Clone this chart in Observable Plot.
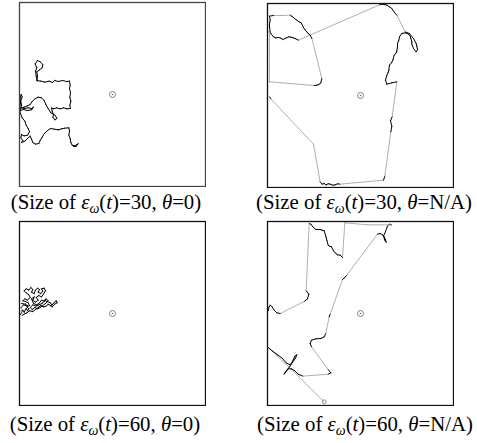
<!DOCTYPE html>
<html>
<head>
<meta charset="utf-8">
<script src="https://cdn.jsdelivr.net/npm/d3@7"></script>
<script src="https://cdn.jsdelivr.net/npm/@observablehq/plot@0.6"></script>
<style>
  html, body { margin: 0; padding: 0; background: #fff; }
  #wrap { position: relative; width: 477px; height: 443px; overflow: hidden; }
  .panel { position: absolute; }
  .cap { position: absolute; width: 240px; text-align: center; white-space: nowrap;
         font-family: "Liberation Serif", "Times New Roman", serif; font-size: 20.8px; line-height: 20px; color: #000; }
  .cap sub { font-size: 14px; vertical-align: -4px; line-height: 0; }
</style>
</head>
<body>
<div id="wrap"></div>
<script>
// World extent (arbitrary position units) and target location
const worldX = [0, 558];
const worldY = [0, 552];
const target = [279, 276];

// Trajectory: size of eps_omega(t)=30, theta=0
const path30Theta0 = [
  [54,236],[50,221],[48,206],[52,196],[47,184],[54,174],[62,178],[70,186],[68,196],[60,202],[52,208],[54,221],[52,234],
  [64,236],[76,239],[89,236],[99,240],[106,234],[116,237],[129,234],[141,237],[150,236],
  [152,248],[150,258],[153,271],[151,284],[154,296],[151,308],[153,318],
  [142,319],[132,316],[122,319],[112,316],[102,319],[96,316],
  [98,326],[102,336],[100,344],[106,352],[112,348],[108,340],[104,336],
  [94,331],[86,318],[79,306],[74,294],[66,286],[56,284],[46,289],
  [39,296],[32,306],[24,310],[14,314],[6,316],[14,318],[26,316],[36,318],[42,314],[36,322],[24,324],[12,321],[2,324],
  [6,308],[4,294],[8,284],[5,276],[2,286],[3,301],[1,314],[2,331],
  [8,346],[16,356],[20,368],[26,378],[30,388],[24,398],[14,400],[6,396],[4,406],[10,414],[6,420],[16,416],[24,408],
  [32,401],[36,410],[40,420],[48,425],[58,423],[62,414],[68,404],[74,394],[84,384],[94,378],[104,380],[116,382],
  [126,379],[136,377],[148,376],[150,386],[148,398],[152,408],[154,420],[158,428],[166,430],[172,426],[176,424],[170,432],[162,432]
];

// Trajectory: size 30, theta N/A
const path30ThetaNA = [
  [6,280],[10,286],[138,422],[158,535],[164,542],[170,540],[176,544],[182,541],[188,542],[196,545],[203,544],[210,541],[218,542],
  [348,530],[352,518],[370,385],[373,368],[369,352],[374,340],[388,235],[373,238],[358,242],[354,230],
  [358,215],[362,207],[364,200],[366,185],[372,178],[376,170],[380,155],[386,148],[388,142],[390,130],[390,120],[394,110],[396,100],
  [403,90],[413,88],[423,92],[428,98],[430,105],[433,114],[433,122],[438,135],[446,145],[450,138],[448,128],[446,120],[438,105],[426,90],[413,85],
  [388,35],[380,26],[373,15],[366,10],[358,5],[350,3],[343,2],[336,4],
  [93,110],[85,106],[78,103],[70,101],[63,100],[55,104],[46,108],[40,104],[33,102],[25,103],[18,100],[10,90],[6,85],
  [6,140],[6,190],[6,235],
  [140,246],[148,245],[154,243],[160,238],[163,225],
  [133,105],[128,95],[122,90],[118,85],[112,78],[108,72],[101,58],[95,55],[88,50],[82,46],[78,42],[72,38],[68,35],
  [43,36],[18,36],[6,38],[8,50],[6,60],[6,70],[8,85]
];

// Trajectory: size 60, theta=0
const path60Theta0 = [
  [3,279],[10,266],[14,272],[20,261],[24,268],[28,262],[22,256],[30,252],[26,244],[18,240],[10,238],[16,232],[24,236],
  [32,228],[28,220],[20,214],[14,208],[20,202],[28,206],[34,198],[40,204],[36,212],[44,216],[48,206],[54,200],[60,204],
  [56,212],[64,216],[70,210],[66,202],[74,200],[78,208],[72,218],[66,226],[58,222],[50,228],[56,236],[48,242],[40,236],
  [44,226],[36,232],[42,246],[52,250],[60,244],[66,236],[74,240],[80,232],[86,238],[78,246],[70,252],[62,258],[54,262],
  [46,258],[38,264],[32,258],[40,250],[50,254],[58,250],[68,246],[75,236],[85,241],[93,244],[97,251],[103,244],[110,238],
  [113,244],[105,248],[98,256],[92,252],[86,248],[80,254],[72,256],[64,252],[56,258],[48,264],[40,270],[30,268],[22,274],
  [14,278],[8,282],[5,258],[12,250],[25,254],[18,248],[6,246]
];

// Trajectory: size 60, theta N/A
const path60ThetaNA = [
  [170,541],[66,438],[44,418],[24,398],[2,378],[14,388],[30,400],[44,410],[56,424],[68,430],
  [76,418],[82,404],[88,400],[84,410],[74,424],[66,436],[58,446],[50,458],[54,452],[62,442],[72,442],[82,448],[92,458],[106,464],
  [182,458],[190,454],[182,444],[132,376],[128,366],[132,356],[145,352],[160,351],[170,346],[175,336],
  [185,286],[188,278],[225,174],[232,168],[238,161],
  [330,38],[338,36],[345,40],[350,46],[354,54],[356,62],[352,56],[348,44],[354,30],[360,14],[366,8],[372,10],
  [300,10],[232,4],[225,108],
  [218,101],[210,100],[205,96],[198,88],[192,76],[186,74],[182,71],[178,56],[176,48],[174,41],[170,28],[164,26],[158,24],[145,24],[138,18],[130,8],[125,6],
  [116,208],[124,218],[120,232],[110,240],
  [38,276],[28,274],[20,266],[14,256],[8,251],[4,258],[2,268]
];

const panels = [
  {path: path30Theta0, left: 18, top: 1, frame: "#444"},
  {path: path30ThetaNA, left: 266, top: 2, frame: "#111"},
  {path: path60Theta0, left: 18, top: 220, frame: "#111"},
  {path: path60ThetaNA, left: 266, top: 220, frame: "#111"}
];

const captionSizes = ["30", "30", "60", "60"];
const captionThetas = ["0", "N/A", "0", "N/A"];
const captionCenters = [[106, 192], [364, 192], [105, 414], [365, 414]];

const wrap = document.getElementById("wrap");

panels.forEach((p, i) => {
  const segs = d3.pairs(p.path).map(([a, b]) => ({x1: a[0], y1: a[1], x2: b[0], y2: b[1],
    len: Math.hypot(b[0] - a[0], b[1] - a[1])}));
  const marks = [
    Plot.link(segs, {x1: "x1", y1: "y1", x2: "x2", y2: "y2",
      stroke: d => d.len > 22 ? "#9a9a9a" : "#000",
      strokeWidth: d => d.len > 22 ? 0.8 : 1, strokeLinecap: "round"}),
    Plot.dot([target], {x: d => d[0], y: d => d[1], r: 3, stroke: "#666", strokeWidth: 0.8, fill: "none"}),
    Plot.dot([target], {x: d => d[0], y: d => d[1], r: 0.8, fill: "#666"}),
    Plot.frame({stroke: p.frame, strokeWidth: 1.3})
  ];
  if (i === 3) {
    marks.push(Plot.dot([p.path[0]], {x: d => d[0], y: d => d[1], r: 2, stroke: "#777", strokeWidth: 0.8, fill: "none"}));
  }
  const svg = Plot.plot({
    width: 188, height: 186,
    marginTop: 1, marginBottom: 1, marginLeft: 1, marginRight: 1,
    x: {domain: worldX, axis: null},
    y: {domain: worldY, reverse: true, axis: null},
    marks
  });
  svg.classList.add("panel");
  svg.style.left = p.left + "px";
  svg.style.top = p.top + "px";
  wrap.appendChild(svg);

  const cap = document.createElement("div");
  cap.className = "cap";
  cap.style.left = (captionCenters[i][0] - 120) + "px";
  cap.style.top = captionCenters[i][1] + "px";
  cap.innerHTML = `(Size of <i>ε</i><sub><i>ω</i></sub>(<i>t</i>)=${captionSizes[i]}, <i>θ</i>=${captionThetas[i]})`;
  wrap.appendChild(cap);
});
</script>
</body>
</html>
